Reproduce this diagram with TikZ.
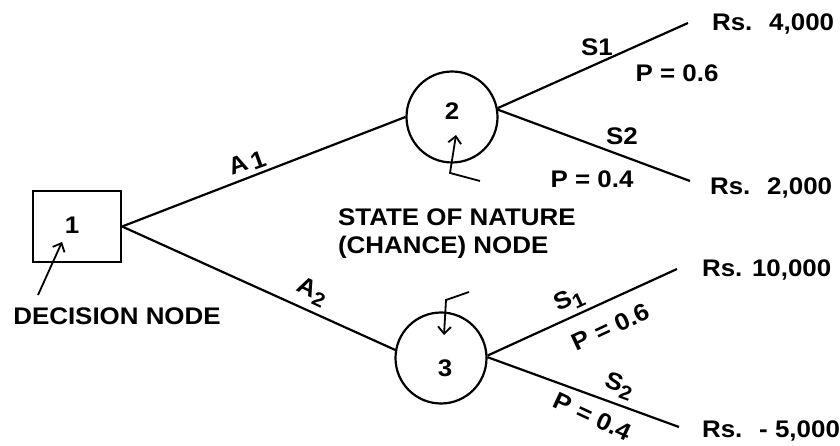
\documentclass[tikz,border=0pt]{standalone}
\usepackage{fontspec}
\setmainfont{Liberation Sans}[FakeStretch=1.08]
\usetikzlibrary{arrows.meta}
\newcommand{\subidx}[1]{\raisebox{-6pt}{\fontsize{20}{20}\selectfont #1}}

\begin{document}
\begin{tikzpicture}[x=1pt, y=-1pt, line width=2.2pt,
	every node/.style={font=\fontsize{24}{28}\selectfont\bfseries, inner sep=0pt},
	chance/.style={draw, circle, minimum size=91pt},
	pointer/.style={line width=1.8pt, -{Straight Barb[length=7pt, width=13pt]}}]
	\useasboundingbox (0,0) rectangle (840,446);
	% decision node and chance nodes
	\node[draw, minimum width=88pt, minimum height=71pt] (d1) at (77,226.5) {};
	\node (t1) at (72,225) {1};
	\node[chance] (c2) at (452,117) {};
	\node (t2) at (452,111) {2};
	\node[chance] (c3) at (441,358) {};
	\node (t3) at (445,368) {3};
	% pay-offs
	\node[anchor=west] (r1) at (711,24) {Rs.~ 4,000};
	\node[anchor=west] (r2) at (709,188) {Rs.~ 2,000};
	\node[anchor=west] (r3) at (701,270) {Rs. 10,000};
	\node[anchor=west] (r4) at (701,431) {Rs.~ - 5,000};
	\coordinate (e1) at (688,23);
	\coordinate (e2) at (690,181);
	\coordinate (e3) at (677,269);
	\coordinate (e4) at (679,427);
	% branches
	\draw (d1.east) -- (c2.west);
	\draw (d1.east) -- (c3.170);
	\draw (c2.11) -- (e1);
	\draw (c2.9) -- (e2);
	\draw (c3.3) -- (e3);
	\draw (c3.1) -- (e4);
	% branch labels
	\node[rotate=20] (a1) at (247,163) {A\,\raisebox{-3pt}{1}};
	\node[rotate=-25] (a2) at (312,292) {A\subidx{2}};
	\node (s11) at (597,47) {S1};
	\node (p11) at (677,73) {P = 0.6};
	\node (s12) at (622,136) {S2};
	\node (p12) at (592,179) {P = 0.4};
	\node[rotate=25] (s21) at (569,300) {S\subidx{1}};
	\node[rotate=25] (p21) at (611,327) {P = 0.6};
	\node[rotate=-20] (s22) at (619,386) {S\subidx{2}};
	\node[rotate=-25] (p22) at (593,417) {P = 0.4};
	% captions and pointers
	\node (dn) at (117,316) {DECISION NODE};
	\node[anchor=west, align=left] (sn) at (337,234) {STATE OF NATURE\\(CHANCE) NODE};
	\coordinate (q1) at (38,295);
	\coordinate (q2) at (62,242);
	\coordinate (q3) at (480,181);
	\coordinate (q4) at (450,173);
	\coordinate (q5) at (456,135);
	\coordinate (q6) at (469,292);
	\coordinate (q7) at (446,300);
	\coordinate (q8) at (444,335);
	\draw[pointer] (q1) -- (q2);
	\draw[pointer] (q3) -- (q4) -- (q5);
	\draw[pointer] (q6) -- (q7) -- (q8);
\end{tikzpicture}
\end{document}
